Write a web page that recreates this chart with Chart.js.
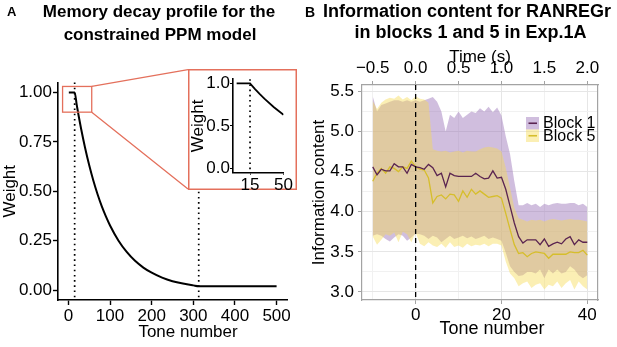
<!DOCTYPE html>
<html>
<head>
<meta charset="utf-8">
<script src="https://cdn.jsdelivr.net/npm/chart.js@4"></script>
<style>
  body { margin: 0; background: #fff; }
  #wrap { position: relative; width: 617px; height: 347px; overflow: hidden; }
  #cA { position: absolute; left: 0; top: 0; }
  #cB { position: absolute; left: 300px; top: 0; }
  #cIn { position: absolute; left: 188px; top: 69px; }
</style>
</head>
<body>
<div id="wrap">
  <canvas id="cA" width="300" height="347"></canvas>
  <canvas id="cB" width="317" height="347"></canvas>
  <canvas id="cIn" width="109" height="121"></canvas>
</div>
<script>
// ---- panel A: memory decay profile
const decayTone   = [1, 15, 20, 25, 30, 40, 50, 60, 70, 80, 90, 100, 120, 140, 160, 180, 200, 225, 250, 275, 300, 313, 400, 500];
const decayWeight = [1, 1, 0.936, 0.877, 0.821, 0.72, 0.631, 0.553, 0.485, 0.425, 0.373, 0.327, 0.251, 0.193, 0.148, 0.114, 0.088, 0.063, 0.045, 0.033, 0.024, 0.02, 0.02, 0.02];
const decayMarks  = [15, 313];
const insetTicks  = [15, 50];

// ---- panel B: information content, tones -10..40
const tones = [-10,-9,-8,-7,-6,-5,-4,-3,-2,-1,0,1,2,3,4,5,6,7,8,9,10,11,12,13,14,15,16,17,18,19,20,
               21,22,23,24,25,26,27,28,29,30,31,32,33,34,35,36,37,38,39,40];
const block1Mean  = [4.56,4.46,4.53,4.51,4.51,4.60,4.56,4.56,4.48,4.59, 4.56,4.55,4.53,4.59,4.55,4.45,4.48,4.31,4.48,4.45,
                     4.44,4.44,4.44,4.44,4.48,4.44,4.41,4.42,4.51,4.42, 4.43,4.28,4.07,3.86,3.69,3.61,3.65,3.65,3.65,3.59,
                     3.66,3.57,3.60,3.62,3.60,3.66,3.69,3.59,3.65,3.62, 3.62];
const block1Upper = [5.44,5.25,5.33,5.35,5.37,5.39,5.39,5.37,5.39,5.37, 5.39,5.37,5.39,5.41,5.43,5.37,5.25,5.00,5.21,5.17,
                     5.25,5.17,5.21,5.25,5.23,5.29,5.25,5.31,5.24,5.30, 5.20,4.94,4.72,4.38,4.08,4.08,4.11,4.08,4.10,4.06,
                     4.10,4.08,4.10,4.11,4.10,4.10,4.11,4.11,4.08,4.10, 4.06];
const block1Lower = [3.70,3.72,3.70,3.66,3.63,3.68,3.72,3.70,3.64,3.68, 3.73,3.72,3.70,3.66,3.70,3.68,3.62,3.66,3.70,3.66,
                     3.68,3.70,3.67,3.69,3.66,3.68,3.70,3.66,3.68,3.66, 3.64,3.49,3.32,3.25,3.20,3.21,3.25,3.25,3.23,3.28,
                     3.17,3.28,3.23,3.28,3.23,3.25,3.32,3.28,3.21,3.17, 3.21];
const block5Mean  = [4.38,4.48,4.54,4.48,4.56,4.54,4.50,4.56,4.54,4.63, 4.56,4.53,4.52,4.42,4.11,4.19,4.21,4.16,4.22,4.21,
                     4.13,4.26,4.18,4.28,4.22,4.26,4.22,4.18,4.19,4.20, 4.17,3.98,3.78,3.59,3.48,3.49,3.44,3.48,3.50,3.49,
                     3.48,3.42,3.47,3.47,3.47,3.47,3.50,3.49,3.49,3.52, 3.46];
const block5Upper = [5.38,5.28,5.36,5.40,5.42,5.41,5.45,5.40,5.43,5.39, 5.44,5.41,5.40,5.36,4.78,4.76,4.75,4.76,4.74,4.75,
                     4.76,4.74,4.76,4.75,4.75,4.78,4.80,4.81,4.80,4.79, 4.75,4.55,4.30,4.05,3.92,3.90,3.88,3.90,3.89,3.90,
                     3.88,3.90,3.91,3.90,3.89,3.90,3.91,3.90,3.90,3.89, 3.88];
const block5Lower = [3.69,3.59,3.65,3.72,3.70,3.74,3.62,3.75,3.72,3.62, 3.74,3.60,3.57,3.62,3.58,3.56,3.60,3.55,3.62,3.56,
                     3.58,3.55,3.60,3.57,3.59,3.58,3.60,3.57,3.60,3.60, 3.58,3.38,3.23,3.17,3.07,3.11,3.13,3.05,3.09,3.11,
                     3.03,3.09,3.07,3.13,3.05,3.11,3.15,3.03,3.13,3.07, 3.03];
const blockNames = ['Block 1', 'Block 5'];
const secPerTone = 0.05;

Chart.defaults.font.family = "'Liberation Sans', Arial, sans-serif";
Chart.defaults.color = '#000';
Chart.defaults.animation = false;
Chart.defaults.plugins.legend.display = false;
Chart.defaults.plugins.tooltip.enabled = false;

const red = '#e4705c';
const purpleLine = '#5a2450', yellowLine = '#d6be2c';
const purpleFill = 'rgba(148,108,180,0.44)', yellowFill = 'rgba(246,218,84,0.44)';

function pts(xs, ys) { return xs.map((x, i) => ({x: x, y: ys[i]})); }

// draws free text (titles, panel letters, bottom axis titles)
const headings = {
  id: 'headings',
  afterDraw(chart, args, opts) {
    const ctx = chart.ctx;
    ctx.save();
    ctx.fillStyle = '#000';
    ctx.textBaseline = 'alphabetic';
    opts.items.forEach(it => {
      ctx.font = it.font;
      ctx.textAlign = it.align || 'center';
      ctx.fillText(it.text, it.x, it.y);
    });
    ctx.restore();
  }
};

function vline(chart, xv, dash, width) {
  const ctx = chart.ctx, ca = chart.chartArea;
  const px = chart.scales.x.getPixelForValue(xv);
  ctx.save();
  ctx.strokeStyle = '#000';
  ctx.lineWidth = width;
  ctx.setLineDash(dash);
  ctx.beginPath();
  ctx.moveTo(px, ca.top);
  ctx.lineTo(px, ca.bottom);
  ctx.stroke();
  ctx.restore();
}

// ---------------- panel A
const markLines = {
  id: 'markLines',
  beforeDatasetsDraw(chart) {
    decayMarks.forEach(m => vline(chart, m, [1.6, 3.6], 1.7));
  },
  afterDatasetsDraw(chart) {
    const sx = chart.scales.x, sy = chart.scales.y, ctx = chart.ctx;
    const x0 = sx.getPixelForValue(-14), x1 = sx.getPixelForValue(56);
    const y0 = sy.getPixelForValue(1.03), y1 = sy.getPixelForValue(0.9);
    const inset = document.getElementById('cIn');
    const ix = inset.offsetLeft, iy = inset.offsetTop, ih = inset.height;
    ctx.save();
    ctx.strokeStyle = red;
    ctx.lineWidth = 1.3;
    ctx.strokeRect(x0, y0, x1 - x0, y1 - y0);
    ctx.beginPath();
    ctx.moveTo(x1, y0); ctx.lineTo(ix, iy + 0.7);
    ctx.moveTo(x1, y1); ctx.lineTo(ix, iy + ih - 1);
    ctx.stroke();
    ctx.restore();
  }
};

new Chart(document.getElementById('cA'), {
  type: 'line',
  data: {
    datasets: [{
      data: pts(decayTone, decayWeight),
      borderColor: '#000', borderWidth: 2, pointRadius: 0,
      cubicInterpolationMode: 'monotone', fill: false
    }]
  },
  options: {
    responsive: false,
    layout: { padding: { left: 0, right: 13, top: 82.5, bottom: 0 } },
    scales: {
      x: {
        type: 'linear', min: -25, max: 525,
        ticks: { stepSize: 100, includeBounds: false, font: { size: 17 }, padding: 1, maxRotation: 0, color: '#000' },
        grid: { drawOnChartArea: false, tickLength: 5, tickColor: '#000', tickWidth: 1.4 },
        border: { color: '#000', width: 1.6 },
        afterFit: s => { s.height = 47; }
      },
      y: {
        type: 'linear', min: -0.05, max: 1.05,
        ticks: { stepSize: 0.25, includeBounds: false, font: { size: 17 }, padding: 1, color: '#000',
                 callback: v => v.toFixed(2) },
        grid: { drawOnChartArea: false, tickLength: 5, tickColor: '#000', tickWidth: 1.4 },
        border: { color: '#000', width: 1.6 },
        title: { display: true, text: 'Weight', font: { size: 17 }, padding: 0, color: '#000' },
        afterFit: s => { s.width = 58; }
      }
    },
    plugins: {
      headings: { items: [
        { text: 'A', x: 7, y: 16, font: 'bold 13px "Liberation Sans", Arial', align: 'left' },
        { text: 'Memory decay profile for the', x: 159, y: 17, font: 'bold 17px "Liberation Sans", Arial' },
        { text: 'constrained PPM model', x: 160, y: 40, font: 'bold 17px "Liberation Sans", Arial' },
        { text: 'Tone number', x: 188, y: 336.5, font: '17px "Liberation Sans", Arial' }
      ] }
    }
  },
  plugins: [markLines, headings]
});

// ---------------- inset
const insetFrame = {
  id: 'insetFrame',
  beforeDraw(chart) {
    const ctx = chart.ctx;
    ctx.save();
    ctx.fillStyle = '#fff';
    ctx.fillRect(0, 0, chart.width, chart.height);
    ctx.strokeStyle = red;
    ctx.lineWidth = 1.5;
    ctx.strokeRect(0.75, 0.75, chart.width - 1.5, chart.height - 1.5);
    ctx.restore();
  },
  beforeDatasetsDraw(chart) {
    vline(chart, decayMarks[0], [1.6, 3.6], 1.7);
  }
};

const insetIdx = decayTone.map((t, i) => i).filter(i => decayTone[i] <= 50);
new Chart(document.getElementById('cIn'), {
  type: 'line',
  data: {
    datasets: [{
      data: insetIdx.map(i => ({ x: decayTone[i], y: decayWeight[i] })),
      borderColor: '#000', borderWidth: 1.8, pointRadius: 0, tension: 0, fill: false
    }]
  },
  options: {
    responsive: false,
    layout: { padding: { left: 0, right: 13.5, top: 9.7, bottom: 0 } },
    scales: {
      x: {
        type: 'linear', min: -2.8, max: 50,
        afterBuildTicks: s => { s.ticks = insetTicks.map(v => ({ value: v })); },
        ticks: { font: { size: 17 }, padding: 0, maxRotation: 0, color: '#000' },
        grid: { drawOnChartArea: false, tickLength: 2, tickColor: '#000' },
        border: { color: '#000', width: 1.6 },
        afterFit: s => { s.height = 17.3; }
      },
      y: {
        type: 'linear', min: -0.05, max: 1.05,
        ticks: { stepSize: 0.5, includeBounds: false, font: { size: 17 }, padding: 0, color: '#000',
                 callback: v => v.toFixed(1) },
        grid: { drawOnChartArea: false, tickLength: 3, tickColor: '#000' },
        border: { color: '#000', width: 1.6 },
        title: { display: true, text: 'Weight', font: { size: 17 }, padding: 0, color: '#000' },
        afterFit: s => { s.width = 45; }
      }
    }
  },
  plugins: [insetFrame]
});

// ---------------- panel B
const zeroLine = {
  id: 'zeroLine',
  afterDatasetsDraw(chart) {
    vline(chart, 0, [5, 4], 1.3);
  }
};

const keyLegend = {
  id: 'keyLegend',
  afterDraw(chart) {
    const ctx = chart.ctx, ca = chart.chartArea;
    const fills = [purpleFill, yellowFill], lines = [purpleLine, yellowLine];
    const kx = ca.right - 72, ky = ca.top + 32, kh = 12.5;
    ctx.save();
    blockNames.forEach((name, i) => {
      const top = ky + i * kh;
      ctx.fillStyle = fills[i];
      ctx.fillRect(kx, top, 13, kh);
      ctx.strokeStyle = lines[i];
      ctx.lineWidth = 1.6;
      ctx.beginPath();
      ctx.moveTo(kx + 2.5, top + kh / 2);
      ctx.lineTo(kx + 11, top + kh / 2);
      ctx.stroke();
      ctx.fillStyle = '#000';
      ctx.font = '16px "Liberation Sans", Arial';
      ctx.textAlign = 'left';
      ctx.textBaseline = 'middle';
      ctx.fillText(name, kx + 17, top + kh / 2 + 0.5);
    });
    ctx.restore();
  }
};

const gridMajor = '#e6e6e6', gridMinor = '#f1f1f1', frame = '#a3a3a3';
const isHalf = v => Math.abs(v * 2 - Math.round(v * 2)) < 1e-6;

new Chart(document.getElementById('cB'), {
  type: 'line',
  data: {
    datasets: [
      { label: blockNames[0], data: pts(tones, block1Mean), borderColor: purpleLine, borderWidth: 1.3, pointRadius: 0, tension: 0, fill: false },
      { label: blockNames[1], data: pts(tones, block5Mean), borderColor: yellowLine, borderWidth: 1.3, pointRadius: 0, tension: 0, fill: false },
      { data: pts(tones, block5Lower), borderWidth: 0, pointRadius: 0, tension: 0, fill: false },
      { data: pts(tones, block5Upper), borderWidth: 0, pointRadius: 0, tension: 0, fill: 2, backgroundColor: yellowFill },
      { data: pts(tones, block1Lower), borderWidth: 0, pointRadius: 0, tension: 0, fill: false },
      { data: pts(tones, block1Upper), borderWidth: 0, pointRadius: 0, tension: 0, fill: 4, backgroundColor: purpleFill }
    ]
  },
  options: {
    responsive: false,
    layout: { padding: { left: 0, right: 19, top: 44, bottom: 0 } },
    scales: {
      x: {
        type: 'linear', position: 'bottom', min: -12.5, max: 42.5,
        ticks: { stepSize: 10, includeBounds: false, autoSkip: false, maxRotation: 0, font: { size: 17 }, padding: 1, color: '#000',
                 callback: v => (v % 20 === 0 ? v : '') },
        grid: {
          color: c => (c.tick && c.tick.value % 20 === 0 ? gridMajor : gridMinor),
          tickColor: c => (c.tick && c.tick.value % 20 === 0 ? frame : 'rgba(0,0,0,0)'),
          tickLength: 4
        },
        border: { color: frame, width: 1.2 },
        afterFit: s => { s.height = 47; }
      },
      x2: {
        type: 'linear', position: 'top', min: -12.5 * secPerTone, max: 42.5 * secPerTone,
        ticks: { stepSize: 0.5, includeBounds: false, autoSkip: false, maxRotation: 0, font: { size: 17 }, padding: 2, color: '#000',
                 callback: v => (v < 0 ? '\u2212' : '') + Math.abs(v).toFixed(1) },
        grid: { drawOnChartArea: false, tickLength: 4, tickColor: frame },
        border: { color: frame, width: 1.2 },
        title: { display: true, text: 'Time (s)', font: { size: 17 }, padding: { top: 3, bottom: 0 }, color: '#000' },
        afterFit: s => { s.height = 41; }
      },
      y: {
        type: 'linear', min: 2.9, max: 5.58,
        ticks: { stepSize: 0.25, includeBounds: false, autoSkip: false, font: { size: 17 }, padding: 4, color: '#000',
                 callback: v => (isHalf(v) ? v.toFixed(1) : '') },
        grid: {
          color: c => (c.tick && isHalf(c.tick.value) ? gridMajor : gridMinor),
          tickColor: c => (c.tick && isHalf(c.tick.value) ? frame : 'rgba(0,0,0,0)'),
          tickLength: 4
        },
        border: { color: frame, width: 1.2 },
        title: { display: true, text: 'Information content', font: { size: 17 }, padding: { top: 9.5, bottom: 0 }, color: '#000' },
        afterFit: s => { s.width = 62; }
      },
      y2: {
        type: 'linear', position: 'right', min: 2.9, max: 5.58,
        ticks: { display: false },
        grid: { drawOnChartArea: false, drawTicks: false },
        border: { color: frame, width: 1.2 },
        afterFit: s => { s.width = 0; }
      }
    },
    plugins: {
      headings: { items: [
        { text: 'B', x: 5, y: 16.5, font: 'bold 14px "Liberation Sans", Arial', align: 'left' },
        { text: 'Information content for RANREGr', x: 167, y: 17, font: 'bold 18px "Liberation Sans", Arial' },
        { text: 'in blocks 1 and 5 in Exp.1A', x: 170.5, y: 37.5, font: 'bold 18px "Liberation Sans", Arial' },
        { text: 'Tone number', x: 192, y: 333.5, font: '18px "Liberation Sans", Arial' }
      ] }
    }
  },
  plugins: [zeroLine, keyLegend, headings]
});
</script>
</body>
</html>
